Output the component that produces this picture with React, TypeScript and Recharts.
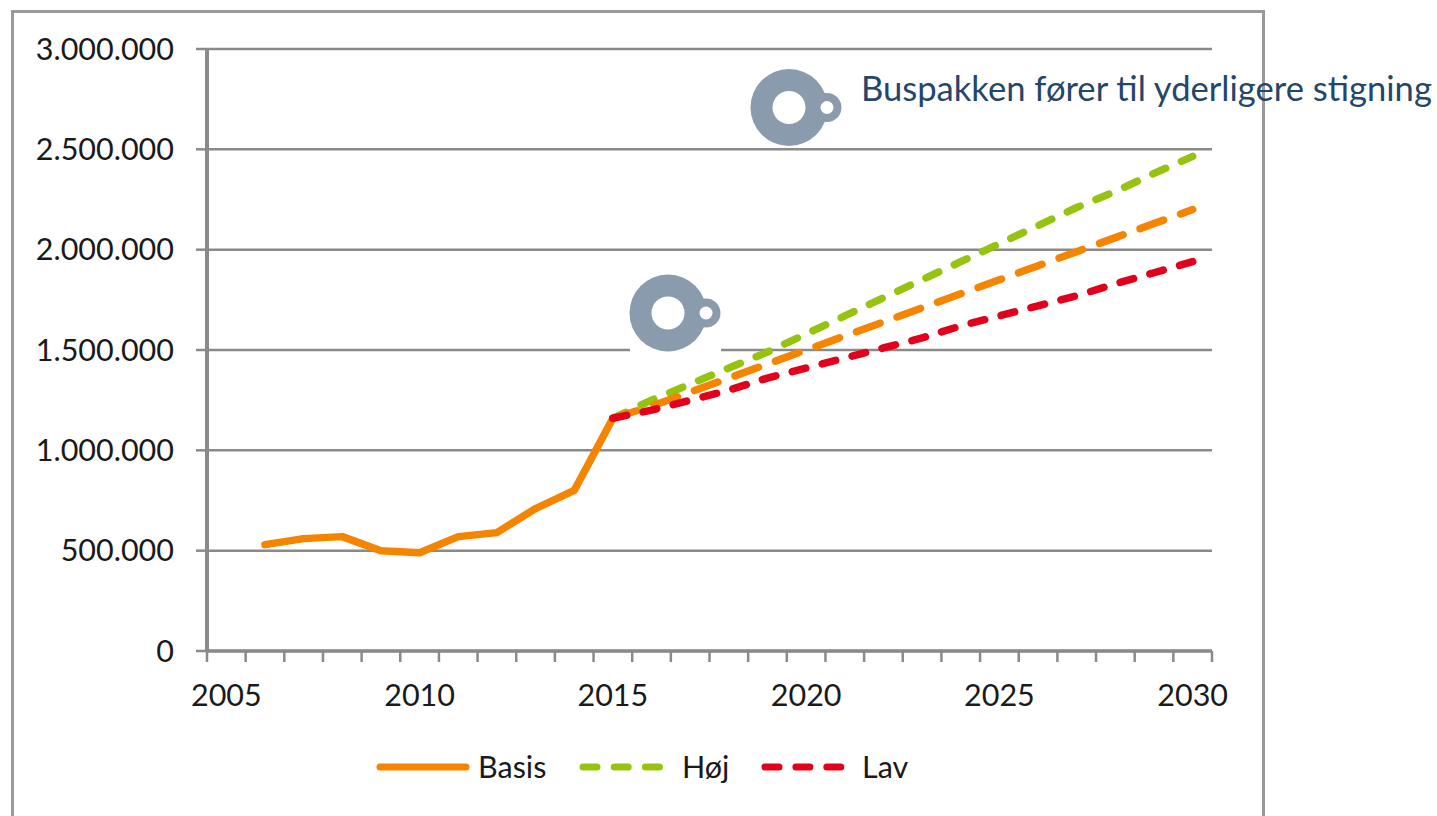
import { CartesianGrid, Legend, Line, LineChart, XAxis, YAxis } from 'recharts';

const years = [2005, 2006, 2007, 2008, 2009, 2010, 2011, 2012, 2013, 2014, 2015, 2016, 2017, 2018, 2019, 2020, 2021, 2022, 2023, 2024, 2025, 2026, 2027, 2028, 2029, 2030];
const basisValues = [null, 530000, 560000, 570000, 500000, 490000, 570000, 590000, 710000, 800000, 1160000];
const midValues = [1160000, 1220000, 1290000, 1360000, 1430000, 1500000, 1570000, 1640000, 1710000, 1780000, 1850000, 1920000, 1990000, 2060000, 2130000, 2200000];
const highValues = [1160000, 1250000, 1330000, 1410000, 1490000, 1580000, 1670000, 1760000, 1850000, 1940000, 2030000, 2120000, 2210000, 2290000, 2380000, 2465000];
const lowValues = [1160000, 1200000, 1250000, 1300000, 1360000, 1410000, 1460000, 1510000, 1560000, 1620000, 1670000, 1720000, 1770000, 1830000, 1885000, 1940000];
const yTicks = [0, 500000, 1000000, 1500000, 2000000, 2500000, 3000000];
const labelYears = [2005, 2010, 2015, 2020, 2025, 2030];
const annotation = 'Buspakken fører til yderligere stigning';

const forecastStart = 10;
const rows = years.map((year, i) => ({
  year,
  basis: basisValues[i] ?? null,
  mid: midValues[i - forecastStart] ?? null,
  high: highValues[i - forecastStart] ?? null,
  low: lowValues[i - forecastStart] ?? null,
}));

// excel style axis: tick marks sit between the years, labels in the middle
const tickEdges = [...years.map(y => y - 0.5), 2030.5];

const FONT = 'Lato, sans-serif';
const GREY = '#8a8a8a';
const ORANGE = '#f58400';
const GREEN = '#95c30f';
const RED = '#e2001a';
const ICON = '#8a9bae';

const dashes: Record<string, string | undefined> = { Basis: undefined, 'Høj': '14 17.2', Lav: '14 16.9' };

const formatValue = (v: number) => String(v).replace(/\B(?=(\d{3})+$)/g, '.');

function LegendContent({ payload }: any) {
  const items = (payload || []).filter((entry: any) => entry.type !== 'none');
  return (
    <svg width={600} height={40} style={{ display: 'block', overflow: 'visible' }}>
      {items.map((entry: any, i: number) => {
        const x = [7, 210, 392][i];
        const w = [86, 78, 78][i];
        return (
          <g key={entry.value}>
            <line x1={x} x2={x + w} y1={20} y2={20} stroke={entry.color} strokeWidth={7} strokeLinecap="round" strokeDasharray={dashes[entry.value]} />
            <text x={[105, 309, 489][i]} y={31} fontFamily={FONT} fontSize={30.5} fill="#1a1a1a">{entry.value}</text>
          </g>
        );
      })}
    </svg>
  );
}

function KeyIcon({ cx, cy }: { cx: number; cy: number }) {
  return (
    <g>
      <circle cx={cx} cy={cy} r={38.5} fill={ICON} />
      <circle cx={cx} cy={cy} r={16.5} fill="#fff" />
      <circle cx={cx + 38} cy={cy} r={14.5} fill={ICON} />
      <circle cx={cx + 38} cy={cy} r={6.5} fill="#fff" />
    </g>
  );
}

export default function App() {
  return (
    <div style={{ position: 'fixed', left: 0, top: 0, width: 1437, height: 816, overflow: 'hidden', background: '#fff' }}>
      <div style={{ position: 'absolute', left: 11, top: 10, width: 1248, height: 820, border: '3px solid #999' }} />
      <LineChart width={1437} height={816} data={rows} margin={{ top: 49, right: 225, bottom: 0, left: 0 }}>
        <CartesianGrid vertical={false} stroke={GREY} strokeWidth={2.5} />
        <XAxis xAxisId="edges" dataKey="year" type="number" domain={[2004.5, 2030.5]} ticks={tickEdges} interval={0} height={1} tick={() => <g />} tickSize={11} stroke={GREY} tickLine={{ stroke: GREY, strokeWidth: 2.5 }} axisLine={{ stroke: GREY, strokeWidth: 3.5 }} />
        <XAxis xAxisId="labels" dataKey="year" type="number" domain={[2004.5, 2030.5]} ticks={labelYears} interval={0} height={124} axisLine={false} tickLine={false} tickMargin={26} tick={{ fill: '#1a1a1a', fontFamily: FONT, fontSize: 30.5 }} />
        <YAxis type="number" domain={[0, 3000000]} ticks={yTicks} interval={0} width={207} tickSize={11} tickMargin={22} tickFormatter={formatValue} tick={{ fill: '#1a1a1a', fontFamily: FONT, fontSize: 30.5 }} axisLine={{ stroke: GREY, strokeWidth: 4 }} tickLine={{ stroke: GREY, strokeWidth: 2.5 }} />
        <Legend content={<LegendContent />} itemSorter={null} wrapperStyle={{ position: 'absolute', left: 373, top: 747, width: 600, height: 40 }} />
        <Line xAxisId="labels" dataKey="basis" name="Basis" stroke={ORANGE} strokeWidth={7.5} strokeLinecap="round" strokeLinejoin="round" dot={false} isAnimationActive={false} />
        <Line xAxisId="labels" dataKey="high" name="Høj" stroke={GREEN} strokeWidth={7.5} strokeLinecap="round" strokeDasharray="14 17.2" dot={false} isAnimationActive={false} />
        <Line xAxisId="labels" dataKey="mid" name="Basis" legendType="none" stroke={ORANGE} strokeWidth={7.5} strokeLinecap="round" strokeDasharray="25 18.1" dot={false} isAnimationActive={false} />
        <Line xAxisId="labels" dataKey="low" name="Lav" stroke={RED} strokeWidth={7.5} strokeLinecap="round" strokeDasharray="14 16.9" dot={false} isAnimationActive={false} />
        <rect x={630} y={275} width={91} height={80} fill="#fff" />
        <KeyIcon cx={668} cy={313} />
        <KeyIcon cx={789} cy={107.5} />
        <text x={861} y={101} fontFamily={FONT} fontSize={34.6} fill="#24466b">{annotation}</text>
      </LineChart>
    </div>
  );
}
